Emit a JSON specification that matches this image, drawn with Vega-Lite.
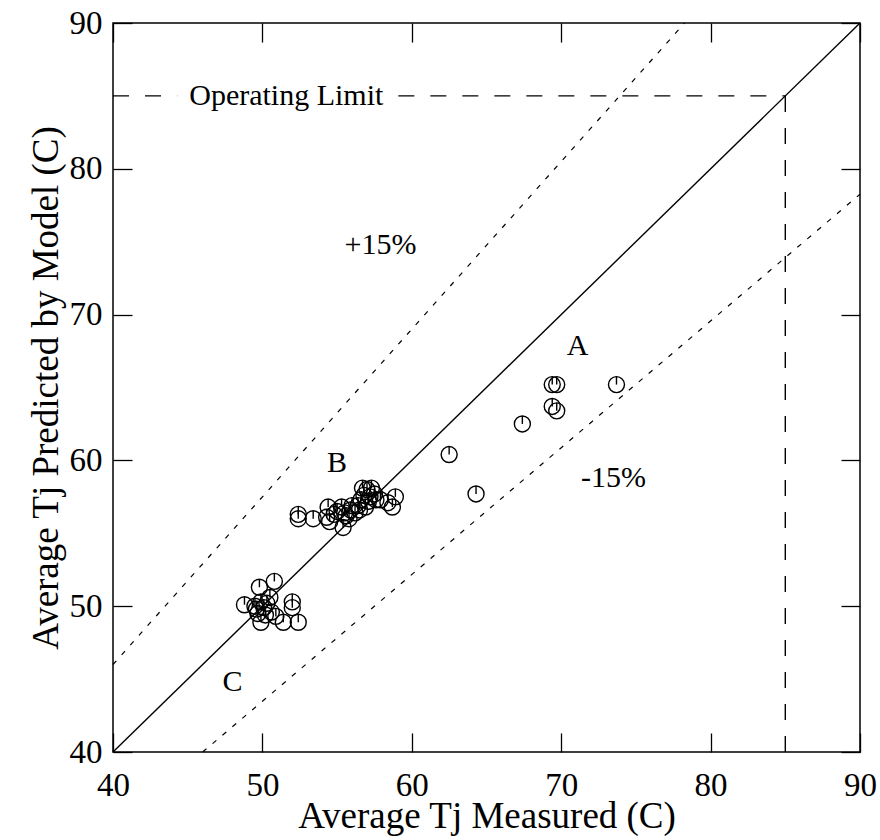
{
  "$schema": "https://vega.github.io/schema/vega-lite/v6.json",
  "width": 747,
  "height": 729,
  "autosize": {"type": "none"},
  "padding": {"left": 113, "top": 23, "right": 20, "bottom": 88},
  "background": "white",
  "config": {
    "font": "Liberation Serif",
    "view": {"stroke": "black", "strokeWidth": 1.5},
    "axis": {
      "grid": false,
      "domain": false,
      "ticks": true,
      "tickColor": "black",
      "tickWidth": 1.3,
      "labelColor": "black",
      "titleColor": "black",
      "labelFont": "Liberation Serif",
      "titleFont": "Liberation Serif",
      "labelFontSize": 33,
      "titleFontSize": 37,
      "titleFontWeight": "normal"
    }
  },
  "datasets": {
    "pts": [
      {"x": 48.8, "y": 50.1}, {"x": 49.5, "y": 50.0}, {"x": 49.8, "y": 51.3}, {"x": 49.9, "y": 50.3},
      {"x": 50.1, "y": 49.9}, {"x": 50.3, "y": 50.2}, {"x": 50.5, "y": 50.6}, {"x": 50.8, "y": 51.7},
      {"x": 49.7, "y": 49.5}, {"x": 50.6, "y": 49.6}, {"x": 49.9, "y": 48.9}, {"x": 50.9, "y": 49.3},
      {"x": 51.4, "y": 48.9}, {"x": 52.0, "y": 50.3}, {"x": 52.0, "y": 49.9}, {"x": 52.4, "y": 48.9},
      {"x": 50.2, "y": 49.4}, {"x": 49.6, "y": 49.8},
      {"x": 52.4, "y": 56.3}, {"x": 52.4, "y": 56.0}, {"x": 53.4, "y": 56.0}, {"x": 54.4, "y": 56.8},
      {"x": 54.3, "y": 56.1}, {"x": 54.5, "y": 55.8}, {"x": 55.0, "y": 56.5}, {"x": 55.3, "y": 56.8},
      {"x": 55.4, "y": 55.4}, {"x": 55.6, "y": 56.2}, {"x": 55.9, "y": 56.6}, {"x": 56.2, "y": 56.4},
      {"x": 56.4, "y": 56.9}, {"x": 56.6, "y": 57.3}, {"x": 56.8, "y": 57.6}, {"x": 57.0, "y": 58.0},
      {"x": 57.3, "y": 58.1}, {"x": 57.5, "y": 57.7}, {"x": 57.1, "y": 57.2}, {"x": 56.9, "y": 56.8},
      {"x": 57.6, "y": 57.3}, {"x": 56.5, "y": 56.6}, {"x": 55.8, "y": 56.0}, {"x": 57.9, "y": 57.3},
      {"x": 58.4, "y": 57.1}, {"x": 58.7, "y": 56.8}, {"x": 58.9, "y": 57.5}, {"x": 57.2, "y": 57.5},
      {"x": 56.7, "y": 58.1}, {"x": 56.0, "y": 56.9}, {"x": 55.5, "y": 56.4}, {"x": 54.8, "y": 56.3},
      {"x": 62.5, "y": 60.4}, {"x": 64.3, "y": 57.7}, {"x": 67.4, "y": 62.5}, {"x": 69.4, "y": 65.2},
      {"x": 69.7, "y": 65.2}, {"x": 73.7, "y": 65.2}, {"x": 69.4, "y": 63.7}, {"x": 69.7, "y": 63.4}
    ],
    "solid": [{"id": "eq", "x": 40, "y": 40}, {"id": "eq", "x": 90, "y": 90}],
    "dotted": [
      {"id": "up", "x": 40, "y": 46}, {"id": "up", "x": 78.26, "y": 90},
      {"id": "lo", "x": 46, "y": 40}, {"id": "lo", "x": 90, "y": 78.26}
    ],
    "dashed": [
      {"id": "h1", "x": 40, "y": 85}, {"id": "h1", "x": 44.3, "y": 85},
      {"id": "h2", "x": 59.1, "y": 85}, {"id": "h2", "x": 85, "y": 85},
      {"id": "v", "x": 85, "y": 85}, {"id": "v", "x": 85, "y": 40}
    ],
    "labels": [
      {"label": "Operating Limit", "x": 51.6, "y": 85},
      {"label": "+15%", "x": 57.9, "y": 74.8},
      {"label": "-15%", "x": 73.5, "y": 58.8},
      {"label": "A", "x": 71.1, "y": 67.85},
      {"label": "B", "x": 55.0, "y": 59.8},
      {"label": "C", "x": 48.0, "y": 44.8}
    ]
  },
  "layer": [
    {
      "data": {"name": "solid"},
      "mark": {"type": "line", "color": "black", "strokeWidth": 1.4},
      "encoding": {
        "x": {"field": "x", "type": "quantitative", "scale": {"domain": [40, 90], "nice": false, "zero": false},
              "axis": {"orient": "bottom", "values": [40, 50, 60, 70, 80, 90], "tickSize": -19, "labelPadding": 36, "title": "Average Tj Measured (C)", "titlePadding": -4, "labelFlush": false}},
        "y": {"field": "y", "type": "quantitative", "scale": {"domain": [40, 90], "nice": false, "zero": false},
              "axis": {"orient": "left", "values": [40, 50, 60, 70, 80, 90], "tickSize": -19, "labelPadding": 30, "title": "Average Tj Predicted by Model (C)", "titlePadding": 4, "labelFlush": false}},
        "detail": {"field": "id"}
      }
    },
    {
      "data": {"name": "dotted"},
      "mark": {"type": "line", "color": "black", "strokeWidth": 1.2, "strokeDash": [5, 8]},
      "encoding": {
        "x": {"field": "x", "type": "quantitative",
              "axis": {"orient": "top", "values": [40, 50, 60, 70, 80, 90], "tickSize": -19, "labels": false, "title": null}},
        "y": {"field": "y", "type": "quantitative",
              "axis": {"orient": "right", "values": [40, 50, 60, 70, 80, 90], "tickSize": -19, "labels": false, "title": null}},
        "detail": {"field": "id"}
      }
    },
    {
      "data": {"name": "dashed"},
      "mark": {"type": "line", "color": "black", "strokeWidth": 1.4, "strokeDash": [16, 16]},
      "encoding": {
        "x": {"field": "x", "type": "quantitative", "axis": null},
        "y": {"field": "y", "type": "quantitative", "axis": null},
        "detail": {"field": "id"}
      }
    },
    {
      "data": {"name": "pts"},
      "mark": {"type": "point", "shape": "circle", "filled": false, "size": 256, "color": "black", "strokeWidth": 1.4, "opacity": 1},
      "encoding": {
        "x": {"field": "x", "type": "quantitative", "axis": null},
        "y": {"field": "y", "type": "quantitative", "axis": null}
      }
    },
    {
      "data": {"name": "pts"},
      "mark": {"type": "point", "shape": "M0,-1L0,0", "filled": false, "size": 256, "color": "black", "strokeWidth": 1.4, "opacity": 1},
      "encoding": {
        "x": {"field": "x", "type": "quantitative", "axis": null},
        "y": {"field": "y", "type": "quantitative", "axis": null}
      }
    },
    {
      "data": {"name": "labels"},
      "mark": {"type": "text", "font": "Liberation Serif", "fontSize": 30, "color": "black", "align": "center", "baseline": "middle"},
      "encoding": {
        "x": {"field": "x", "type": "quantitative", "axis": null},
        "y": {"field": "y", "type": "quantitative", "axis": null},
        "text": {"field": "label"}
      }
    }
  ],
  "resolve": {"axis": {"x": "independent", "y": "independent"}}
}
